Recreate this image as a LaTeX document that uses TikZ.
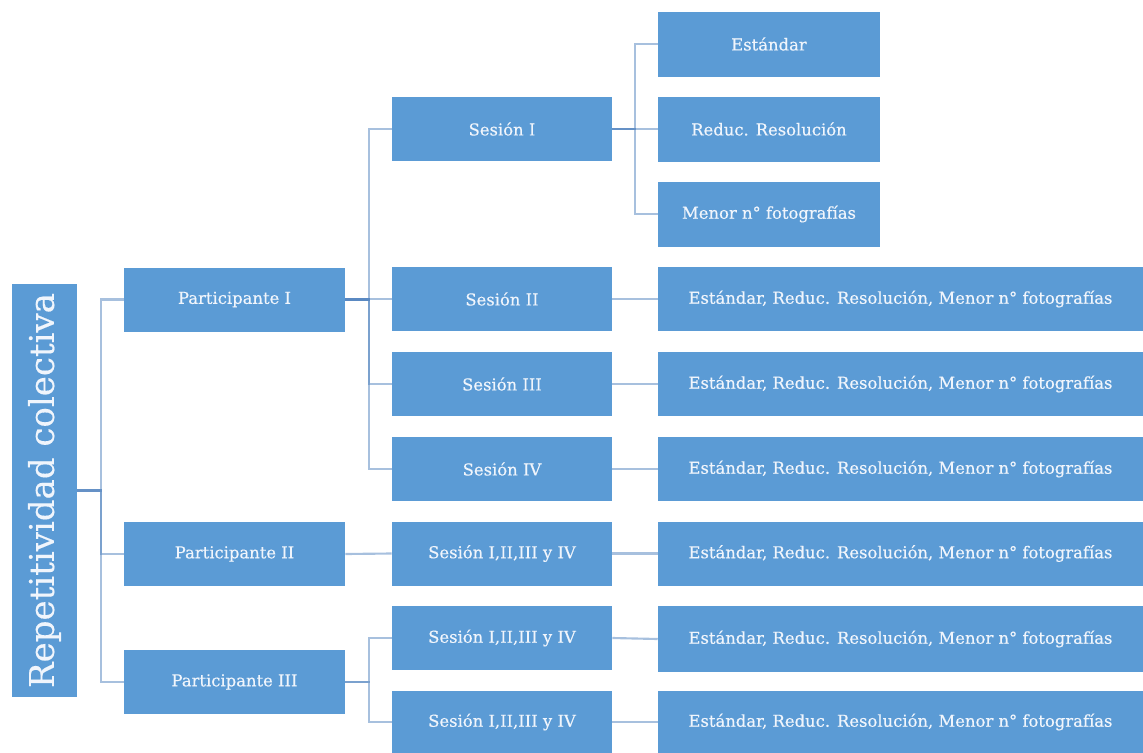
\documentclass[tikz,border=0pt]{standalone}
\usepackage{fontspec}
\setmainfont{DejaVu Serif}[FakeBold=0.35]
\definecolor{boxblue}{RGB}{91,155,213}
\definecolor{linkblue}{RGB}{80,130,190}
\definecolor{txt}{RGB}{240,245,252}
\begin{document}
\begin{tikzpicture}[x=0.75pt,y=-0.75pt,
  box/.style={fill=boxblue,text=txt,inner sep=0pt,font=\fontsize{12.3}{14}\selectfont},
  pbox/.style={box,minimum width=221*0.75pt,minimum height=64*0.75pt},
  sbox/.style={box,minimum width=220*0.75pt,minimum height=64*0.75pt},
  lbox/.style={box,minimum width=222*0.75pt,minimum height=65*0.75pt},
  wbox/.style={box,minimum width=485*0.75pt,minimum height=64*0.75pt},
  conn/.style={draw=linkblue,line width=1.6pt,opacity=0.5}]
\useasboundingbox (0,0) rectangle (1143,753);
% root
\node[box,rotate=90,minimum width=413*0.75pt,minimum height=65*0.75pt,font=\fontsize{25.5}{30}\selectfont] (root) at (44.5,490.5) {Repetitividad colectiva};
% participants
\node[pbox] (p1) at (234.5,299.5) {Participante I};
\node[pbox] (p2) at (234.5,554) {Participante II};
\node[pbox] (p3) at (234.5,682) {Participante III};
% sessions
\node[sbox] (s1) at (502,129) {Sesión I};
\node[sbox] (s2) at (502,299) {Sesión II};
\node[sbox] (s3) at (502,384) {Sesión III};
\node[sbox] (s4) at (502,469) {Sesión IV};
\node[sbox] (s5) at (502,553.5) {Sesión I,II,III y IV};
\node[sbox] (s6) at (502,638) {Sesión I,II,III y IV};
\node[sbox,minimum height=62*0.75pt] (s7) at (502,722) {Sesión I,II,III y IV};
% leaves of Sesión I
\node[lbox] (l1) at (769,44) {Estándar};
\node[lbox] (l2) at (769,129) {Reduc. Resolución};
\node[lbox] (l3) at (769,214) {Menor n° fotografías};
% wide leaves
\node[wbox] (w2) at (900.5,299) {Estándar, Reduc. Resolución, Menor n° fotografías};
\node[wbox] (w3) at (900.5,384) {Estándar, Reduc. Resolución, Menor n° fotografías};
\node[wbox] (w4) at (900.5,469) {Estándar, Reduc. Resolución, Menor n° fotografías};
\node[wbox] (w5) at (900.5,553.5) {Estándar, Reduc. Resolución, Menor n° fotografías};
\node[wbox,minimum height=66*0.75pt] (w6) at (900.5,639) {Estándar, Reduc. Resolución, Menor n° fotografías};
\node[wbox,minimum height=62*0.75pt] (w7) at (900.5,722) {Estándar, Reduc. Resolución, Menor n° fotografías};
% connectors
\foreach \c in {p1,p2,p3} \draw[conn] (root.south) -- ++(24,0) |- (\c.west);
\foreach \c in {s1,s2,s3,s4} \draw[conn] (p1.east) -- ++(24,0) |- (\c.west);
\draw[conn] (p2.east) -- (s5.west);
\foreach \c in {s6,s7} \draw[conn] (p3.east) -- ++(24,0) |- (\c.west);
\foreach \c in {l1,l2,l3} \draw[conn] (s1.east) -- ++(23,0) |- (\c.west);
\draw[conn] (s2.east) -- (w2.west);
\draw[conn] (s3.east) -- (w3.west);
\draw[conn] (s4.east) -- (w4.west);
\draw[conn] (s5.east) -- (w5.west);
\draw[conn] (s6.east) -- (w6.west);
\draw[conn] (s7.east) -- (w7.west);
\end{tikzpicture}
\end{document}
